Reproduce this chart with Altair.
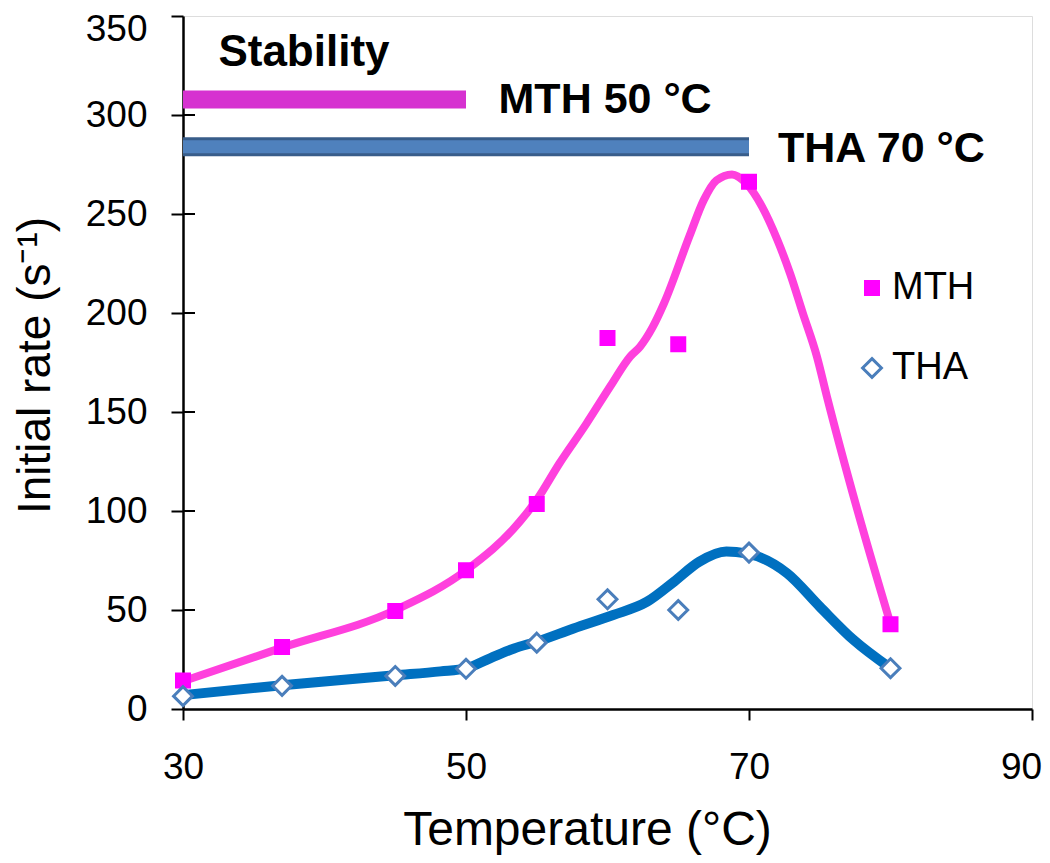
import altair as alt
import pandas as pd

# measured points
temps = [30, 37, 45, 50, 55, 60, 65, 70, 80]
mth_pts = [14.4, 31.3, 49.5, 70.1, 103.5, 187.4, 184.2, 266.3, 42.8]
tha_pts = [6.5, 11.7, 16.7, 20.3, 33.5, 55.4, 50.0, 79.0, 20.6]

# smoothed curves
mth_curve_x = [30, 37, 45, 50, 53.8, 55, 56.6, 58.5, 60.2, 61.6, 62.3, 63.2, 64.0, 65.8, 66.8,
               67.7, 68.8, 69.8, 70.9, 72.0, 72.9, 73.8, 74.8, 75.5, 77.6, 80]
mth_curve_y = [14, 31, 50, 70, 94.6, 105.6, 124, 144, 163, 178, 183, 193, 205, 239, 257,
               267, 270, 265.5, 254, 237, 220, 200, 178, 158, 102, 43]
tha_curve_x = [30, 37, 45, 48.2, 50, 51.7, 53.4, 55, 57.6, 60.4, 62.8, 64.7, 66.5, 68.4, 69.8,
               72.7, 75.0, 77.4, 80]
tha_curve_y = [7, 12, 17, 19, 20.5, 25.6, 30.6, 34, 40.7, 47.5, 54.2, 64.3, 74.4, 79.5, 78.6,
               68.5, 51.7, 34.8, 20.6]

# stability bars
stab_names = ["MTH", "THA"]
stab_start = [30, 30]
stab_end = [50, 70]
stab_level = [307.8, 284]
stab_labels = ["MTH 50 °C", "THA 70 °C"]
stab_label_x = [52.3, 72.05]
stab_label_y = [301, 276.3]

title_text = ["Stability"]
title_x = [32.5]
title_y = [324.7]

y_ticks = [0, 50, 100, 150, 200, 250, 300, 350]
x_ticks = [30, 50, 70, 90]

PINK_LINE = "#FF40DD"
PINK_PT = "#FF00FF"
BLUE_LINE = "#0070C0"
BLUE_PT = "#4A7EBB"

pts = pd.DataFrame({
    "T": temps * 2,
    "rate": mth_pts + tha_pts,
    "series": ["MTH"] * len(temps) + ["THA"] * len(temps),
})
mth_curve = pd.DataFrame({"T": mth_curve_x, "rate": mth_curve_y})
tha_curve = pd.DataFrame({"T": tha_curve_x, "rate": tha_curve_y})
stab = pd.DataFrame({"name": stab_names, "x1": stab_start, "x2": stab_end, "y": stab_level,
                     "label": stab_labels, "lx": stab_label_x, "ly": stab_label_y})
ttl = pd.DataFrame({"t": title_text, "x": title_x, "y": title_y})
inner_ticks = pd.DataFrame({"v": y_ticks[1:-1]})

xs = alt.Scale(domain=[30, 90], nice=False, zero=False)
ys = alt.Scale(domain=[0, 350], nice=False)

x_axis = alt.Axis(values=x_ticks, title="Temperature (°C)", grid=False, labelFlush=False,
                  labelFont="Liberation Sans", labelFontSize=37, labelColor="black",
                  labelPadding=29, tickSize=11, tickColor="black", tickWidth=2,
                  labelOffset={"condition": {"test": "datum.value == 90", "value": -11}, "value": 0},
                  domainColor="black", domainWidth=2.5,
                  titleFont="Liberation Sans", titleFontSize=48, titleFontWeight="normal",
                  titleColor="black", titleX=404, titleY=135, titleAlign="center",
                  titleBaseline="alphabetic")
y_axis = alt.Axis(values=y_ticks, title="Initial rate (s⁻¹)", grid=False, labelFlush=False,
                  labelFont="Liberation Sans", labelFontSize=37, labelColor="black",
                  labelPadding=24, tickSize=12, tickColor="black", tickWidth=2,
                  labelOffset={"condition": {"test": "datum.value == 350", "value": 13}, "value": 0},
                  domainColor="black", domainWidth=2.5,
                  titleFont="Liberation Sans", titleFontSize=46, titleFontWeight="normal",
                  titleColor="black", titleAngle=-90, titleX=-134, titleY=349,
                  titleAlign="center", titleBaseline="alphabetic")

base_x = alt.X("T:Q", scale=xs, axis=x_axis)
base_y = alt.Y("rate:Q", scale=ys, axis=y_axis)

ticks_in = alt.Chart(inner_ticks).mark_rule(color="black", strokeWidth=2).encode(
    y=alt.Y("v:Q"), x=alt.value(0), x2=alt.value(12))

mth_line = alt.Chart(mth_curve).mark_line(interpolate="monotone", color=PINK_LINE, strokeWidth=8).encode(
    x=base_x, y=base_y)
tha_line = alt.Chart(tha_curve).mark_line(interpolate="monotone", color=BLUE_LINE, strokeWidth=10).encode(
    x="T:Q", y="rate:Q")

square_path = "M-1,-1H1V1H-1Z"
diamond_path = "M0,-1.45L1.45,0L0,1.45L-1.45,0Z"

points = alt.Chart(pts).mark_point(size=169, strokeWidth=3, opacity=1).encode(
    x="T:Q", y="rate:Q",
    shape=alt.Shape("series:N", scale=alt.Scale(domain=["MTH", "THA"], range=[square_path, diamond_path]),
                    legend=alt.Legend(title=None, orient="none", legendX=670, legendY=253,
                                      labelFont="Liberation Sans", labelFontSize=38, labelColor="black",
                                      symbolSize=169, symbolStrokeWidth=3, rowPadding=42,
                                      labelOffset=1)),
    fill=alt.Fill("series:N", scale=alt.Scale(domain=["MTH", "THA"], range=[PINK_PT, "white"])),
    stroke=alt.Stroke("series:N", scale=alt.Scale(domain=["MTH", "THA"], range=[PINK_PT, BLUE_PT])),
)

pink_bar = alt.Chart(stab[stab["name"] == "MTH"]).mark_rule(
    color="#D631D0", strokeWidth=18, strokeCap="butt").encode(x="x1:Q", x2="x2:Q", y="y:Q")
blue_bar_edge = alt.Chart(stab[stab["name"] == "THA"]).mark_rule(
    color="#385D8A", strokeWidth=19, strokeCap="butt").encode(x="x1:Q", x2="x2:Q", y="y:Q")
blue_bar = alt.Chart(stab[stab["name"] == "THA"]).mark_rule(
    color="#4F81BD", strokeWidth=13, strokeCap="butt").encode(x="x1:Q", x2="x2:Q", y="y:Q")

stab_text = alt.Chart(stab).mark_text(align="left", baseline="alphabetic", font="Liberation Sans",
                                      fontSize=43, fontWeight="bold", color="black").encode(
    x="lx:Q", y="ly:Q", text="label:N")
title_mark = alt.Chart(ttl).mark_text(align="left", baseline="alphabetic", font="Liberation Sans",
                                      fontSize=44, fontWeight="bold", color="black").encode(
    x="x:Q", y="y:Q", text="t:N")

chart = alt.layer(mth_line, ticks_in, pink_bar, blue_bar_edge, blue_bar, tha_line, points,
                  stab_text, title_mark).properties(
    width=849, height=693,
    autosize=alt.AutoSizeParams(type="none"),
    padding={"left": 175, "top": 8, "right": 10, "bottom": 146},
).configure_view(stroke="black", strokeWidth=2).configure(background="white")

chart.save("out.html", embed_options={"renderer": "svg", "actions": False})
